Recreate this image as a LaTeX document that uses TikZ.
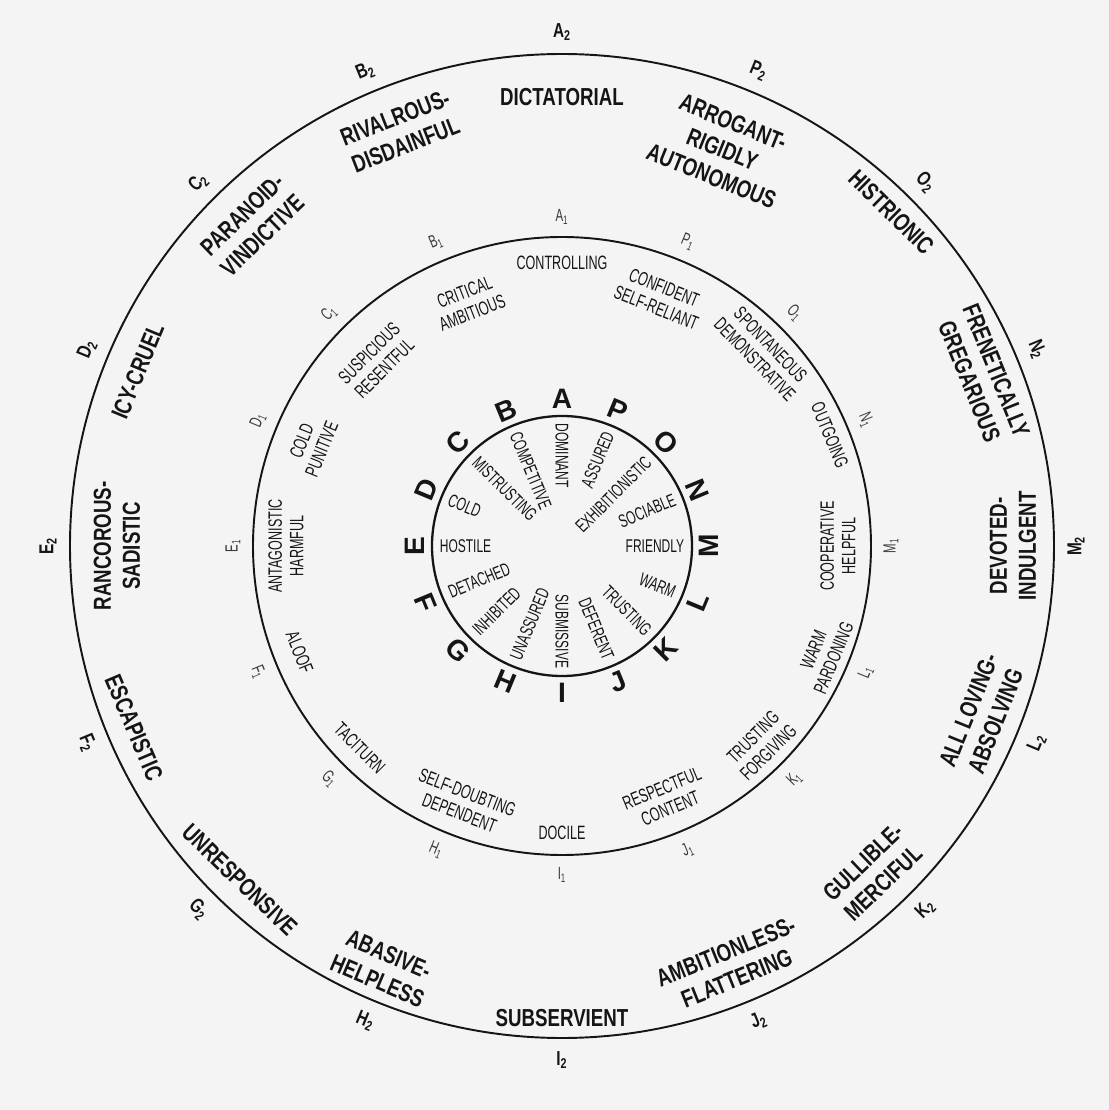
\documentclass[tikz,border=0pt]{standalone}
\usepackage{fontspec}
\setmainfont{Liberation Sans}
\newfontfamily\condfont[FakeStretch=0.65]{Liberation Sans}
\newfontfamily\widefont[FakeStretch=0.76]{Liberation Sans}
\usepackage{xcolor}
\definecolor{paper}{HTML}{F4F4F4}
\definecolor{ink}{HTML}{151515}

\begin{document}
\begin{tikzpicture}[
    ring/.style={draw=ink, line width=1.1pt},
    outerlbl/.style={font=\widefont\bfseries\fontsize{14}{16.5}\selectfont, align=center, inner sep=0pt, text=ink},
    midlbl/.style={font=\condfont\fontsize{11}{12.3}\selectfont, align=center, inner sep=0pt, text=ink},
    innlbl/.style={font=\condfont\fontsize{10.5}{11}\selectfont, inner sep=0pt, text=ink},
    letterlbl/.style={font=\bfseries\fontsize{16}{16}\selectfont, inner sep=0pt, text=ink},
    idxone/.style={font=\condfont\fontsize{10}{10}\selectfont, inner sep=0pt, text=ink!85},
    idxtwo/.style={font=\widefont\bfseries\fontsize{11.5}{11.5}\selectfont, inner sep=0pt, text=ink}
]
    \fill[paper] (-11.24,-11.28) rectangle (10.94,10.92);
    \useasboundingbox (-11.24,-11.28) rectangle (10.94,10.92);

    \draw[ring] (0,0) circle (9.84);
    \draw[ring] (0,0) circle (6.18);
    \draw[ring, line width=1.3pt] (0,0) circle (2.6);

    % outer ring
    \foreach \ang/\rad/\txt [count=\i] in {
        90/8.98/DICTATORIAL,
        111.3/8.9/{RIVALROUS-\\DISDAINFUL},
        134/8.92/{PARANOID-\\VINDICTIVE},
        157.6/9.18/ICY-CRUEL,
        180/8.9/{RANCOROUS-\\SADISTIC},
        203/9.3/ESCAPISTIC,
        226/9.28/UNRESPONSIVE,
        247/9.16/{ABASIVE-\\HELPLESS},
        270/9.44/SUBSERVIENT,
        292/9.04/{AMBITIONLESS-\\FLATTERING},
        313.6/9.02/{GULLIBLE-\\MERCIFUL},
        338/9.06/{ALL LOVING-\\ABSOLVING},
        0/9.02/{DEVOTED-\\INDULGENT},
        22/9.08/{FRENETICALLY\\GREGARIOUS},
        45.4/9.38/HISTRIONIC,
        68/8.56/{ARROGANT-\\RIGIDLY\\AUTONOMOUS}} {
        \pgfmathsetmacro\rot{(\ang>0 && \ang<=180) ? \ang-90 : \ang+90}
        \node[outerlbl, rotate=\rot] (out\i) at (\ang:\rad) {\txt};
    }

    % middle ring
    \foreach \ang/\rad/\txt [count=\i] in {
        90/5.66/CONTROLLING,
        111/5.22/{CRITICAL\\AMBITIOUS},
        135/5.24/{SUSPICIOUS\\RESENTFUL},
        158/5.4/{COLD\\PUNITIVE},
        180/5.52/{ANTAGONISTIC\\HARMFUL},
        202/5.66/ALOOF,
        225/5.72/TACITURN,
        249/5.5/{SELF-DOUBTING\\DEPENDENT},
        270/5.74/DOCILE,
        292.4/5.46/{RESPECTFUL\\CONTENT},
        315/5.62/{TRUSTING\\FORGIVING},
        337.6/5.66/{WARM\\PARDONING},
        0/5.52/{COOPERATIVE\\HELPFUL},
        22.5/5.8/OUTGOING,
        44/5.58/{SPONTANEOUS\\DEMONSTRATIVE},
        68.4/5.34/{CONFIDENT\\SELF-RELIANT}} {
        \pgfmathsetmacro\rot{(\ang>0 && \ang<=180) ? \ang-90 : \ang+90}
        \node[midlbl, rotate=\rot] (mid\i) at (\ang:\rad) {\txt};
    }

    % inner circle, spokes
    \foreach \ang/\txt [count=\i] in {67.5/ASSURED, 45/EXHIBITIONISTIC, 22.5/SOCIABLE, 0/FRIENDLY,
        -22.5/WARM, -45/TRUSTING, -67.5/DEFERENT, -90/SUBMISSIVE}
        \node[innlbl, anchor=east, rotate=\ang] (innr\i) at (\ang:2.45) {\txt};
    \foreach \ang/\txt [count=\i] in {90/DOMINANT, 112.5/COMPETITIVE, 135/MISTRUSTING, 157.5/COLD,
        180/HOSTILE, 202.5/DETACHED, 225/INHIBITED, 247.5/UNASSURED}
        \node[innlbl, anchor=west, rotate=\ang+180] (innl\i) at (\ang:2.45) {\txt};

    % letters and indices
    \foreach \l [count=\i from 0] in {M,N,O,P,A,B,C,D,E,F,G,H,I,J,K,L} {
        \pgfmathsetmacro\ang{\i*22.5}
        \pgfmathsetmacro\rot{(\ang>0 && \ang<=180) ? \ang-90 : \ang+90}
        \node[letterlbl, rotate=\rot] (let\l) at (\ang:2.94) {\l};
        \node[idxone, rotate=\rot] (one\l) at (\ang:6.58) {\l\textsubscript{1}};
        \node[idxtwo, rotate=\rot] (two\l) at (\ang:10.28) {\l\textsubscript{2}};
    }
\end{tikzpicture}
\end{document}
